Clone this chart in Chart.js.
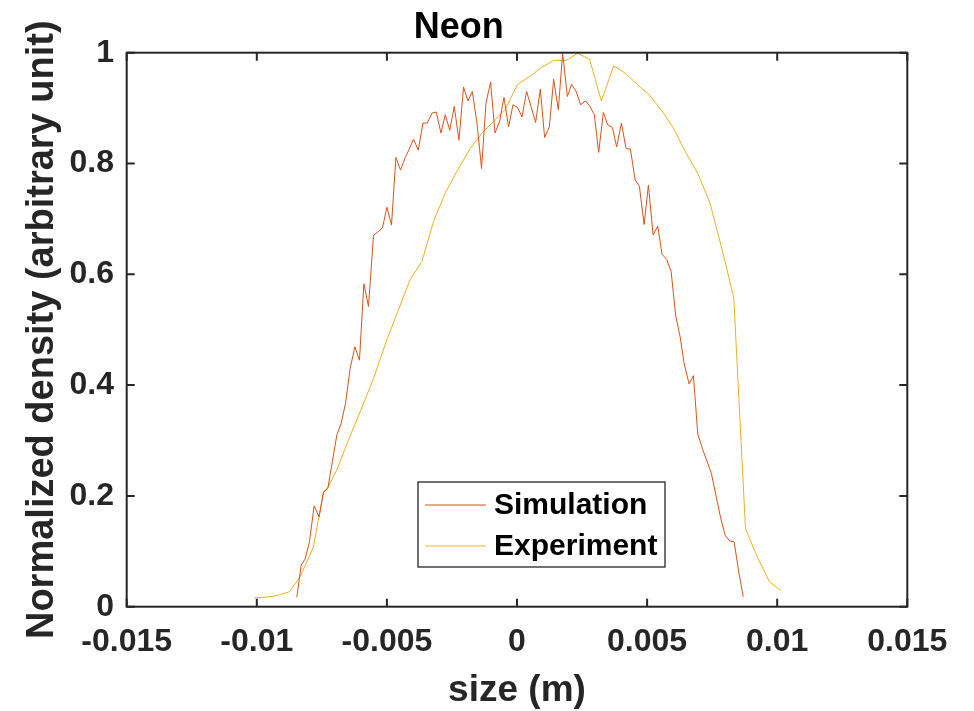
<!DOCTYPE html>
<html>
<head>
<meta charset="utf-8">
<title>Neon</title>
<script src="https://cdn.jsdelivr.net/npm/chart.js@4.4.1/dist/chart.umd.min.js"></script>
<style>
  html, body { margin: 0; padding: 0; background: #fff; }
  #wrap { width: 974px; height: 711px; }
</style>
</head>
<body>
<div id="wrap"><canvas id="neon-chart" width="974" height="711"></canvas></div>
<script>
// data
const simX = [-0.008462, -0.008296, -0.008142, -0.007977, -0.007796, -0.007604, -0.007438, -0.007269,
  -0.007096, -0.006923, -0.006758, -0.006592, -0.006412, -0.006231, -0.006054, -0.005885, -0.005708,
  -0.005515, -0.005342, -0.005169, -0.005, -0.004823, -0.004654, -0.004477, -0.004308, -0.004142,
  -0.003977, -0.003796, -0.003615, -0.00345, -0.003269, -0.003104, -0.002923, -0.002758, -0.002585,
  -0.002412, -0.002231, -0.002054, -0.001885, -0.001719, -0.001538, -0.001362, -0.001192, -0.001015,
  -0.000846, -0.000669, -0.0005, -0.000323, -0.000154, 0.000023, 0.000192, 0.000369, 0.000538,
  0.000715, 0.000896, 0.001062, 0.001242, 0.001408, 0.001588, 0.001754, 0.001935, 0.0021, 0.002281,
  0.002446, 0.002627, 0.002792, 0.002973, 0.003138, 0.003319, 0.003485, 0.003665, 0.003831, 0.004012,
  0.004192, 0.004358, 0.004538, 0.004704, 0.004885, 0.00505, 0.005231, 0.005408, 0.005577, 0.005754,
  0.005923, 0.0061, 0.006269, 0.006423, 0.006615, 0.006781, 0.006946, 0.007127, 0.007308, 0.007473,
  0.007654, 0.007819, 0.008, 0.008165, 0.008346, 0.008512, 0.008692];
const simY = [0.017, 0.075, 0.086, 0.117, 0.182, 0.162, 0.206, 0.214,
  0.262, 0.31, 0.331, 0.367, 0.43, 0.469, 0.445, 0.583, 0.542,
  0.67, 0.677, 0.684, 0.721, 0.689, 0.811, 0.788, 0.809, 0.826,
  0.844, 0.824, 0.873, 0.873, 0.891, 0.893, 0.855, 0.888, 0.86,
  0.903, 0.842, 0.938, 0.913, 0.93, 0.873, 0.791, 0.909, 0.947,
  0.855, 0.876, 0.919, 0.866, 0.906, 0.901, 0.884, 0.93, 0.903,
  0.874, 0.934, 0.847, 0.866, 0.952, 0.897, 0.999, 0.921, 0.943, 0.929,
  0.906, 0.913, 0.904, 0.888, 0.82, 0.892, 0.87, 0.865, 0.83, 0.873,
  0.827, 0.826, 0.771, 0.759, 0.69, 0.761, 0.671, 0.687, 0.636, 0.627,
  0.605, 0.525, 0.487, 0.439, 0.402, 0.417, 0.312, 0.285, 0.262, 0.24,
  0.199, 0.162, 0.129, 0.119, 0.117, 0.066, 0.018];

const expX = [-0.010104, -0.009681, -0.009231, -0.008746, -0.008335, -0.007823, -0.007438, -0.007285,
  -0.006923, -0.006477, -0.006027, -0.005515, -0.005, -0.004554, -0.004104, -0.003654, -0.003208,
  -0.002758, -0.002308, -0.001796, -0.001346, -0.0009, -0.00045, 0.000023, 0.000485, 0.000962,
  0.001408, 0.001885, 0.002331, 0.002792, 0.003242, 0.003715, 0.004165, 0.004615, 0.005062,
  0.005538, 0.006, 0.006473, 0.006946, 0.007408, 0.007885, 0.008331, 0.008781, 0.009231,
  0.009704, 0.010154];
const expY = [0.016, 0.017, 0.02, 0.027, 0.054, 0.108, 0.208, 0.214,
  0.247, 0.301, 0.352, 0.412, 0.482, 0.536, 0.591, 0.623, 0.695,
  0.747, 0.786, 0.827, 0.855, 0.876, 0.898, 0.943, 0.957, 0.974,
  0.986, 0.986, 0.999, 0.988, 0.913, 0.976, 0.963, 0.943, 0.925,
  0.897, 0.865, 0.821, 0.782, 0.73, 0.644, 0.558, 0.141, 0.09,
  0.045, 0.029];

const xTickValues = [-0.015, -0.01, -0.005, 0, 0.005, 0.01, 0.015];
const xTickLabels = ['-0.015', '-0.01', '-0.005', '0', '0.005', '0.01', '0.015'];
const yTickValues = [0, 0.2, 0.4, 0.6, 0.8, 1];
const yTickLabels = ['0', '0.2', '0.4', '0.6', '0.8', '1'];

const FONT = '"Liberation Sans", Arial, Helvetica, sans-serif';
const AXIS_COLOR = '#262626';

function toPoints(xs, ys) {
    return xs.map((x, i) => ({ x, y: ys[i] }));
}

// box round the plot, inward tick marks on all four sides, and the legend inside the axes
const boxAndLegend = {
    id: 'boxAndLegend',
    afterDraw(chart) {
        const { ctx, chartArea: a, scales: { x, y } } = chart;
        ctx.save();
        ctx.strokeStyle = AXIS_COLOR;
        ctx.lineWidth = 2;
        ctx.strokeRect(a.left, a.top, a.right - a.left, a.bottom - a.top);

        const tick = 8;
        ctx.beginPath();
        xTickValues.forEach((v) => {
            const px = x.getPixelForValue(v);
            ctx.moveTo(px, a.bottom); ctx.lineTo(px, a.bottom - tick);
            ctx.moveTo(px, a.top); ctx.lineTo(px, a.top + tick);
        });
        yTickValues.forEach((v) => {
            const py = y.getPixelForValue(v);
            ctx.moveTo(a.left, py); ctx.lineTo(a.left + tick, py);
            ctx.moveTo(a.right, py); ctx.lineTo(a.right - tick, py);
        });
        ctx.stroke();

        // legend
        const lx = 418, ly = 482, lw = 247, lh = 85;
        ctx.fillStyle = '#fff';
        ctx.fillRect(lx, ly, lw, lh);
        ctx.lineWidth = 1.3;
        ctx.strokeStyle = AXIS_COLOR;
        ctx.strokeRect(lx, ly, lw, lh);
        ctx.font = `bold 30px ${FONT}`;
        ctx.textBaseline = 'middle';
        ctx.textAlign = 'left';
        chart.data.datasets.forEach((ds, i) => {
            const rowY = ly + 23 + i * 41;
            ctx.strokeStyle = ds.borderColor;
            ctx.lineWidth = 1;
            ctx.beginPath();
            ctx.moveTo(lx + 7, rowY);
            ctx.lineTo(lx + 68, rowY);
            ctx.stroke();
            ctx.fillStyle = '#000';
            ctx.fillText(ds.label, lx + 76, rowY + 1);
        });
        ctx.restore();
    },
};

const ctx = document.getElementById('neon-chart');

new Chart(ctx, {
    type: 'scatter',
    data: {
        datasets: [
            {
                label: 'Simulation',
                data: toPoints(simX, simY),
                showLine: true,
                borderColor: '#D95319',
                borderWidth: 1,
                pointRadius: 0,
                tension: 0,
            },
            {
                label: 'Experiment',
                data: toPoints(expX, expY),
                showLine: true,
                borderColor: '#EDB120',
                borderWidth: 1,
                pointRadius: 0,
                tension: 0,
            },
        ],
    },
    options: {
        responsive: false,
        animation: false,
        layout: { padding: { left: 10, right: 66.7, top: 0, bottom: 0 } },
        plugins: {
            legend: { display: false },
            tooltip: { enabled: false },
            title: {
                display: true,
                text: 'Neon',
                color: '#000',
                font: { family: FONT, size: 36, weight: 'bold', lineHeight: 1.2 },
                padding: { top: 6, bottom: 3.5 },
            },
        },
        scales: {
            x: {
                type: 'linear',
                min: -0.015,
                max: 0.015,
                afterBuildTicks: (s) => { s.ticks = xTickValues.map((v) => ({ value: v })); },
                afterFit: (s) => { s.height = 104.3; },
                grid: { display: false, drawTicks: false },
                border: { display: false },
                ticks: {
                    color: AXIS_COLOR,
                    padding: 16,
                    maxRotation: 0,
                    font: { family: FONT, size: 32, weight: 'bold', lineHeight: 1.2 },
                    callback: (v) => xTickLabels[xTickValues.indexOf(v)] ?? '',
                },
                title: {
                    display: true,
                    text: 'size (m)',
                    color: AXIS_COLOR,
                    font: { family: FONT, size: 37, weight: 'bold', lineHeight: 1.1 },
                    padding: { top: 0, bottom: 0 },
                },
            },
            y: {
                type: 'linear',
                min: 0,
                max: 1,
                afterBuildTicks: (s) => { s.ticks = yTickValues.map((v) => ({ value: v })); },
                afterFit: (s) => { s.width = 116.7; },
                grid: { display: false, drawTicks: false },
                border: { display: false },
                ticks: {
                    color: AXIS_COLOR,
                    padding: 12.7,
                    font: { family: FONT, size: 32, weight: 'bold', lineHeight: 1.2 },
                    callback: (v) => yTickLabels[yTickValues.indexOf(v)] ?? '',
                },
                title: {
                    display: true,
                    text: 'Normalized density (arbitrary unit)',
                    color: AXIS_COLOR,
                    font: { family: FONT, size: 38, weight: 'bold', lineHeight: 1.2 },
                    padding: { top: 10, bottom: 0 },
                },
            },
        },
    },
    plugins: [boxAndLegend],
});
</script>
</body>
</html>
